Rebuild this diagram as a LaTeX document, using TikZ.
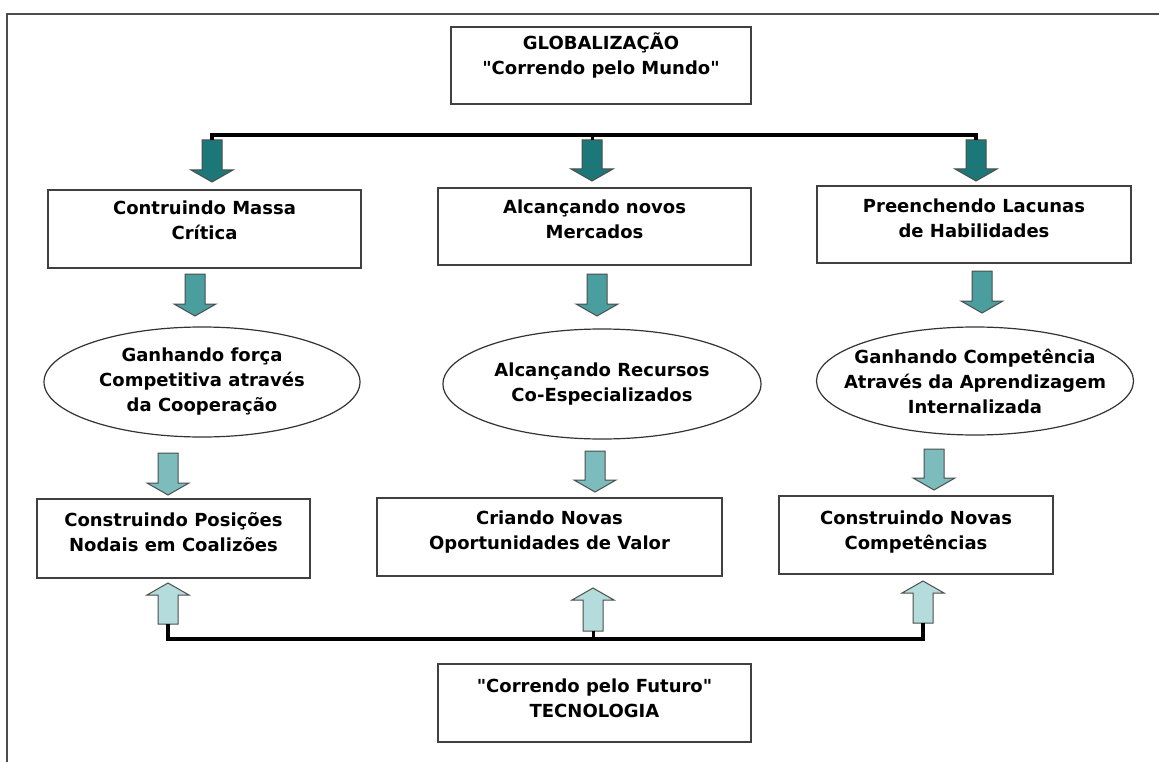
\documentclass[tikz,border=0pt]{standalone}
\usepackage{fontspec}
\setmainfont{DejaVu Sans}
\usetikzlibrary{positioning,calc,shapes.geometric}

\definecolor{tealdark}{HTML}{1C7878}
\definecolor{tealmid}{HTML}{4A9E9E}
\definecolor{teallight}{HTML}{7CBCBC}
\definecolor{tealpale}{HTML}{B4DCDC}

\tikzset{
  txt/.style={font=\bfseries\fontsize{18}{25}\selectfont, align=center, inner sep=0pt},
  box/.style={draw=black!75, line width=2pt, rectangle, inner sep=0pt},
  oval/.style={draw=black!80, line width=1.2pt, ellipse, inner sep=0pt},
  bus/.style={line width=4.5pt},
  stub/.style={line width=3pt},
  arr/.style={draw=black!70, line width=1pt},
  % block arrow pointing down, #1 = length
  pics/downarr/.style={code={
    \draw[pic actions] (-10,0) -- (-10,#1-12) -- (-21,#1-12) -- (0,#1)
      -- (21,#1-12) -- (10,#1-12) -- (10,0) -- cycle;
    \coordinate (-tail) at (0,0);
    \coordinate (-tip) at (0,#1);
  }},
  % block arrow pointing up, #1 = length
  pics/uparr/.style={code={
    \draw[pic actions] (-10,0) -- (-10,-#1+12) -- (-21,-#1+12) -- (0,-#1)
      -- (21,-#1+12) -- (10,-#1+12) -- (10,0) -- cycle;
    \coordinate (-tail) at (0,0);
    \coordinate (-tip) at (0,-#1);
  }}
}

\begin{document}
\begin{tikzpicture}[x=1pt,y=-1pt]
    \useasboundingbox (0,0) rectangle (1159,762);
    % frame
    \draw[draw=black!70, line width=2pt] (1159,14) -- (7,14) -- (7,762);

    % globalization
    \node[box, minimum width=300pt, minimum height=77pt] (glob) at (601,65.5) {};
    \node[txt, yshift=10pt] (globt) at (glob) {GLOBALIZAÇÃO\\\textquotedbl Correndo pelo Mundo\textquotedbl};

    % first row
    \node[box, minimum width=313pt, minimum height=78pt] (b1) at (204.5,229) {};
    \node[txt, yshift=9pt] (b1t) at (b1) {Contruindo Massa\\Crítica};
    \node[box, minimum width=313pt, minimum height=77pt] (b2) at (594.5,226.5) {};
    \node[txt, yshift=7pt] (b2t) at (b2) {Alcançando novos\\Mercados};
    \node[box, minimum width=314pt, minimum height=77pt] (b3) at (974,224.5) {};
    \node[txt, yshift=6pt] (b3t) at (b3) {Preenchendo Lacunas\\de Habilidades};

    % second row
    \node[oval, minimum width=316pt, minimum height=110pt] (e1) at (202,382) {};
    \node[txt] (e1t) at (e1) {Ganhando força\\Competitiva através\\da Cooperação};
    \node[oval, minimum width=318pt, minimum height=110pt] (e2) at (602,384) {};
    \node[txt] (e2t) at (e2) {Alcançando Recursos\\Co-Especializados};
    \node[oval, minimum width=317pt, minimum height=108pt] (e3) at (975,381) {};
    \node[txt] (e3t) at (e3) {Ganhando Competência\\Através da Aprendizagem\\Internalizada};

    % third row
    \node[box, minimum width=273pt, minimum height=79pt] (c1) at (173.5,538.5) {};
    \node[txt, yshift=6pt] (c1t) at (c1) {Construindo Posições\\Nodais em Coalizões};
    \node[box, minimum width=345pt, minimum height=78pt] (c2) at (549.5,537) {};
    \node[txt, yshift=5pt] (c2t) at (c2) {Criando Novas\\Oportunidades de Valor};
    \node[box, minimum width=274pt, minimum height=78pt] (c3) at (916,535) {};
    \node[txt, yshift=3pt] (c3t) at (c3) {Construindo Novas\\Competências};

    % technology
    \node[box, minimum width=313pt, minimum height=78pt] (tech) at (594.5,703) {};
    \node[txt, yshift=4.5pt] (techt) at (tech) {\textquotedbl Correndo pelo Futuro\textquotedbl\\TECNOLOGIA};

    % arrows
    \pic[arr, fill=tealdark] (dA1) at (212,140) {downarr=42};
    \pic[arr, fill=tealdark] (dA2) at (592,140) {downarr=41};
    \pic[arr, fill=tealdark] (dA3) at (976,140) {downarr=41};
    \pic[arr, fill=tealmid] (dB1) at (195,274) {downarr=42};
    \pic[arr, fill=tealmid] (dB2) at (597,274) {downarr=42};
    \pic[arr, fill=tealmid] (dB3) at (982,271) {downarr=42};
    \pic[arr, fill=teallight] (dC1) at (168,453) {downarr=42};
    \pic[arr, fill=teallight] (dC2) at (595,451) {downarr=41};
    \pic[arr, fill=teallight] (dC3) at (934,449) {downarr=41};
    \pic[arr, fill=tealpale] (uA1) at (168,624) {uparr=41};
    \pic[arr, fill=tealpale] (uA2) at (593,631) {uparr=43};
    \pic[arr, fill=tealpale] (uA3) at (923,623) {uparr=42};

    % bus lines
    \coordinate (busTop) at (0,135);
    \coordinate (busBot) at (0,639);
    \draw[bus] (dA1-tail) -- (dA1-tail |- busTop) -- (dA3-tail |- busTop) -- (dA3-tail);
    \draw[stub] (dA2-tail) -- (dA2-tail |- busTop);
    \draw[bus] (uA1-tail) -- (uA1-tail |- busBot) -- (uA3-tail |- busBot) -- (uA3-tail);
    \draw[stub] (uA2-tail) -- (uA2-tail |- busBot);
\end{tikzpicture}
\end{document}
